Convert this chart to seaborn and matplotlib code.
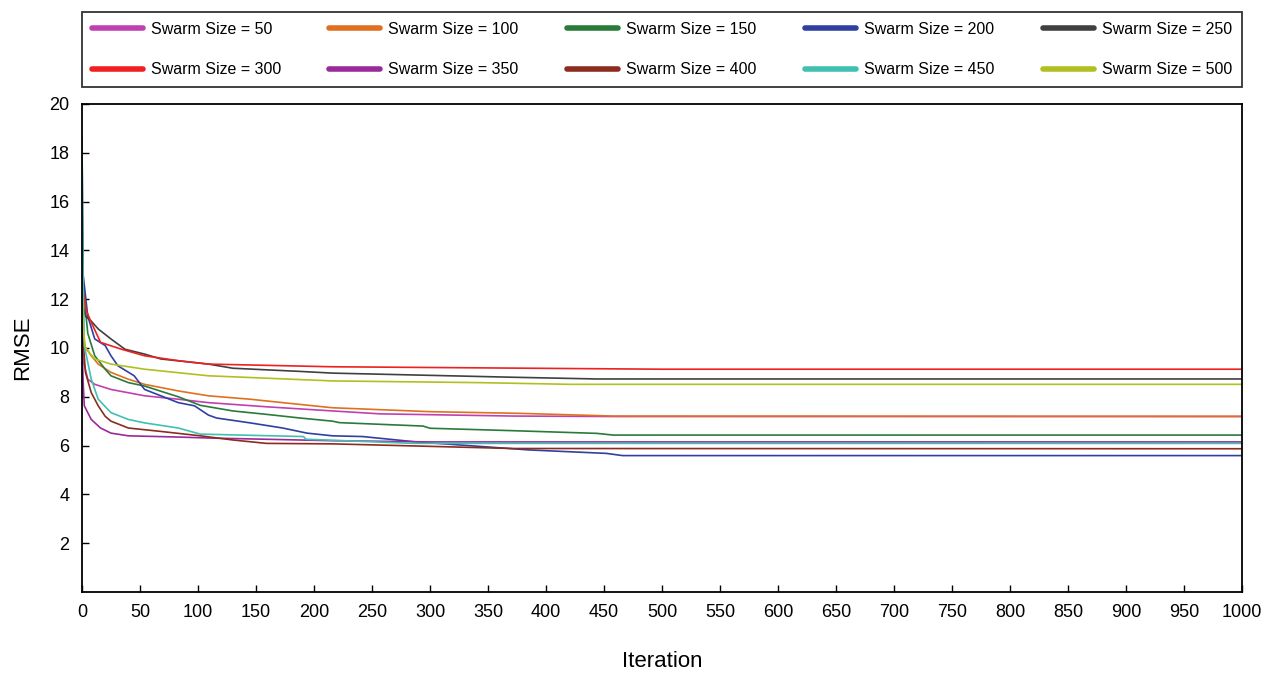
import matplotlib
matplotlib.use("Agg")
import matplotlib.pyplot as plt
import pandas as pd
import seaborn as sns

# Convergence curves (iteration, RMSE)
iters_50 = [0, 1, 5, 11, 25, 54, 83, 109, 159, 216, 257, 372, 460, 1000]
rmse_50 = [11.0, 9.5, 8.72, 8.51, 8.3, 8.04, 7.9, 7.76, 7.59, 7.42, 7.30, 7.21, 7.19, 7.19]

iters_100 = [0, 1, 2, 8, 14, 25, 40, 54, 83, 109, 145, 173, 216, 300, 378, 458, 1000]
rmse_100 = [14.7, 11.5, 10.1, 9.68, 9.34, 9.0, 8.72, 8.51, 8.24, 8.04, 7.9, 7.76, 7.55, 7.39, 7.32, 7.21, 7.20]

iters_150 = [0, 1, 5, 11, 20, 25, 40, 54, 83, 102, 130, 159, 188, 216, 222, 294, 300, 372, 444, 458, 1000]
rmse_150 = [16.1, 12.5, 10.6, 9.68, 9.13, 8.86, 8.58, 8.44, 8.0, 7.65, 7.42, 7.28, 7.13, 7.0, 6.94, 6.80, 6.71, 6.61, 6.50, 6.43, 6.43]

iters_200 = [0, 1, 5, 11, 20, 25, 31, 45, 54, 68, 83, 97, 109, 116, 145, 173, 194, 216, 242, 286, 386, 452, 466, 1000]
rmse_200 = [18.4, 13.0, 11.3, 10.37, 10.1, 9.68, 9.27, 8.86, 8.3, 8.04, 7.76, 7.63, 7.25, 7.13, 6.93, 6.72, 6.51, 6.40, 6.37, 6.16, 5.82, 5.68, 5.59, 5.59]

iters_250 = [0, 1, 3, 8, 14, 25, 37, 54, 68, 109, 130, 188, 216, 372, 444, 1000]
rmse_250 = [13.0, 11.8, 11.3, 11.1, 10.78, 10.37, 9.95, 9.75, 9.55, 9.34, 9.17, 9.04, 8.97, 8.80, 8.73, 8.73]

iters_300 = [0, 1, 4, 8, 16, 34, 54, 83, 109, 216, 500, 1000]
rmse_300 = [13.5, 12.3, 11.5, 11.05, 10.23, 9.95, 9.68, 9.48, 9.34, 9.23, 9.13, 9.13]

iters_350 = [0, 1, 2, 8, 16, 25, 40, 83, 109, 216, 300, 1000]
rmse_350 = [10.3, 8.6, 7.63, 7.07, 6.72, 6.51, 6.4, 6.35, 6.31, 6.2, 6.15, 6.15]

iters_400 = [0, 1, 3, 8, 14, 20, 25, 40, 68, 102, 130, 159, 216, 274, 372, 1000]
rmse_400 = [12.5, 10.3, 9.0, 8.17, 7.63, 7.2, 7.0, 6.72, 6.58, 6.40, 6.23, 6.09, 6.07, 6.0, 5.88, 5.87]

iters_450 = [0, 1, 2, 8, 14, 25, 40, 54, 83, 102, 191, 193, 286, 1000]
rmse_450 = [18.7, 12.5, 10.1, 8.72, 7.9, 7.35, 7.07, 6.93, 6.72, 6.47, 6.37, 6.26, 6.09, 6.09]

iters_500 = [0, 1, 3, 11, 25, 54, 109, 216, 343, 421, 1000]
rmse_500 = [12.5, 10.8, 10.0, 9.55, 9.34, 9.13, 8.86, 8.65, 8.58, 8.51, 8.51]

swarm_sizes = [50, 100, 150, 200, 250, 300, 350, 400, 450, 500]
colors = ["#c040b0", "#e07020", "#2a7a3a", "#3040a0", "#404040",
          "#ee2020", "#9a2a9a", "#8b2c1e", "#40c0b0", "#b0c020"]

curves = {
    50: (iters_50, rmse_50), 100: (iters_100, rmse_100), 150: (iters_150, rmse_150),
    200: (iters_200, rmse_200), 250: (iters_250, rmse_250), 300: (iters_300, rmse_300),
    350: (iters_350, rmse_350), 400: (iters_400, rmse_400), 450: (iters_450, rmse_450),
    500: (iters_500, rmse_500),
}

rows = []
for size in swarm_sizes:
    xs, ys = curves[size]
    label = f"Swarm Size = {size}"
    for x, y in zip(xs, ys):
        rows.append({"Iteration": x, "RMSE": y, "series": label})
df = pd.DataFrame(rows)
labels = [f"Swarm Size = {s}" for s in swarm_sizes]

sns.set_style("ticks")
plt.rcParams["font.family"] = ["Liberation Sans", "DejaVu Sans"]
plt.rcParams["text.color"] = "black"
plt.rcParams["axes.labelcolor"] = "black"

fig = plt.figure(figsize=(12.69, 6.74), dpi=100)
ax = fig.add_axes([0.0646, 0.1217, 0.9141, 0.724])

sns.lineplot(data=df, x="Iteration", y="RMSE", hue="series", hue_order=labels,
             palette=dict(zip(labels, colors)), estimator=None, sort=True,
             linewidth=1.2, ax=ax, legend=False)

ax.set_xlim(0, 1000)
ax.set_ylim(0, 20)
ax.set_xticks(range(0, 1001, 50))
ax.set_yticks(range(2, 21, 2))
ax.tick_params(direction="in", length=5, width=1, labelsize=13, colors="black", pad=9)
for s in ax.spines.values():
    s.set_visible(True)
    s.set_linewidth(1.3)
    s.set_color("black")
ax.set_xlabel("Iteration", fontsize=16, labelpad=21)
ax.set_ylabel("RMSE", fontsize=16, labelpad=12)

# legend fills row by row in the reference; matplotlib fills column by column
order = [0, 5, 1, 6, 2, 7, 3, 8, 4, 9]
handles = [plt.Line2D([], [], color=colors[i], linewidth=4) for i in order]
leg = fig.legend(handles, [labels[i] for i in order], loc="upper left", ncol=5, mode="expand",
                 bbox_to_anchor=(0.0646, 0.8694, 0.9141, 0.1128),
                 fontsize=11.5, frameon=True, fancybox=False, handlelength=3.2,
                 borderaxespad=0, borderpad=0.6, labelspacing=1.6, handletextpad=0.5)
leg.get_frame().set_edgecolor("black")
leg.get_frame().set_linewidth(1.3)

fig.savefig("out.png", dpi=100)
